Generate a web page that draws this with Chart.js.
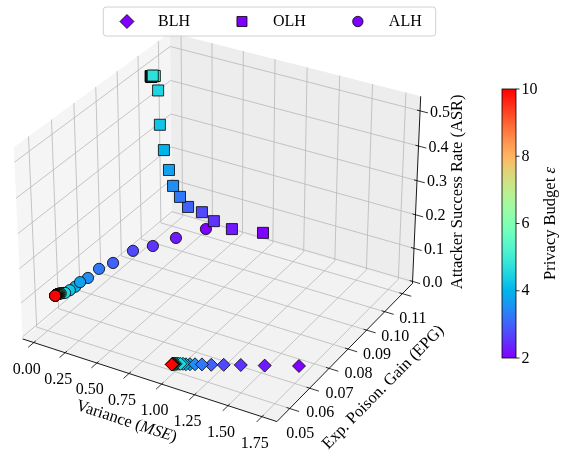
<!DOCTYPE html>
<html>
<head>
<meta charset="utf-8">
<script src="https://cdn.jsdelivr.net/npm/chart.js@4.4.1/dist/chart.umd.min.js"></script>
<style>
  html, body { margin: 0; padding: 0; background: #ffffff; }
  #wrap { width: 570px; height: 459px; }
</style>
</head>
<body>
<div id="wrap"><canvas id="chart" width="570" height="459"></canvas></div>
<script>
// ---- Privacy budgets (colour variable) ----
const EPSILON = [2, 2.25, 2.5, 2.75, 3, 3.25, 3.5, 3.75, 4, 4.25, 4.5, 4.75, 5, 5.25, 5.5, 5.75,
                 6, 6.25, 6.5, 6.75, 7, 7.25, 7.5, 7.75, 8, 8.25, 8.5, 8.75, 9, 9.25, 9.5, 9.75, 10];

// ---- BLH ----
const BLH_MSE = [1.724, 1.527, 1.390, 1.292, 1.221, 1.168, 1.128, 1.099, 1.076, 1.059, 1.045, 1.035,
                 1.027, 1.021, 1.017, 1.013, 1.010, 1.008, 1.006, 1.005, 1.004, 1.003, 1.002, 1.002,
                 1.001, 1.001, 1.001, 1.001, 1.000, 1.000, 1.000, 1.000, 1.000];
const BLH_EPG = [0.0638, 0.0598, 0.0570, 0.0550, 0.0535, 0.0524, 0.0516, 0.0510, 0.0505, 0.0502, 0.0499,
                 0.0497, 0.04955, 0.0494, 0.0493, 0.04922, 0.04915, 0.0491, 0.04905, 0.0490, 0.04896,
                 0.04892, 0.04888, 0.04884, 0.0488, 0.04877, 0.04874, 0.04871, 0.04868, 0.04865,
                 0.04862, 0.04859, 0.04856];
const BLH_ASR = [0.020, 0.020, 0.021, 0.021, 0.021, 0.022, 0.022, 0.022, 0.022, 0.023, 0.023, 0.023,
                 0.023, 0.023, 0.023, 0.023, 0.023, 0.023, 0.023, 0.023, 0.023, 0.023, 0.023, 0.023,
                 0.023, 0.023, 0.023, 0.023, 0.023, 0.023, 0.023, 0.023, 0.023];

// ---- OLH ----
const OLH_MSE = [0.724, 0.527, 0.390, 0.292, 0.221, 0.168, 0.128, 0.099, 0.076, 0.059, 0.045, 0.035,
                 0.027, 0.021, 0.017, 0.013, 0.010, 0.008, 0.006, 0.005, 0.004, 0.003, 0.002, 0.002,
                 0.001, 0.001, 0.001, 0.001, 0.000, 0.000, 0.000, 0.000, 0.000];
const OLH_EPG = [0.1121, 0.1084, 0.1077, 0.1077, 0.1050, 0.1042, 0.1032, 0.1030, 0.1020, 0.1012, 0.1014,
                 0.0995, 0.1010, 0.1009, 0.1009, 0.1008, 0.1008, 0.1008, 0.1007, 0.1007, 0.1007,
                 0.1007, 0.1007, 0.1007, 0.1007, 0.1007, 0.1007, 0.1007, 0.1007, 0.1007, 0.1007,
                 0.1007, 0.1007];
const OLH_ASR = [0.041, 0.050, 0.063, 0.080, 0.102, 0.131, 0.165, 0.211, 0.273, 0.350, 0.448, 0.4985,
                 0.490, 0.490, 0.489, 0.489, 0.489, 0.489, 0.488, 0.488, 0.488, 0.488, 0.488, 0.488,
                 0.488, 0.488, 0.488, 0.488, 0.488, 0.488, 0.488, 0.488, 0.488];

// ---- ALH ----
const ALH_MSE = [0.724, 0.527, 0.390, 0.292, 0.221, 0.168, 0.128, 0.099, 0.076, 0.059, 0.045, 0.035,
                 0.027, 0.021, 0.017, 0.013, 0.010, 0.008, 0.006, 0.005, 0.004, 0.003, 0.002, 0.002,
                 0.001, 0.001, 0.001, 0.001, 0.000, 0.000, 0.000, 0.000, 0.000];
const ALH_EPG = [0.0825, 0.0800, 0.0771, 0.0734, 0.0681, 0.0646, 0.0617, 0.0597, 0.0587, 0.0572, 0.0558,
                 0.0556, 0.0554, 0.0552, 0.0550, 0.0549, 0.0548, 0.0547, 0.0546, 0.0545, 0.0544,
                 0.0543, 0.0543, 0.0542, 0.0541, 0.0541, 0.0540, 0.0540, 0.0539, 0.0539, 0.0539,
                 0.0538, 0.0538];
const ALH_ASR = [0.204, 0.169, 0.145, 0.139, 0.123, 0.118, 0.102, 0.097, 0.086, 0.082, 0.080, 0.0795,
                 0.0793, 0.0790, 0.0790, 0.0788, 0.0786, 0.0784, 0.0782, 0.0780, 0.0780, 0.0778,
                 0.0776, 0.0775, 0.0774, 0.0773, 0.0772, 0.0771, 0.0770, 0.0770, 0.0770, 0.0770, 0.0770];

// ---- Axes ----
const X_TICKS = [0, 0.25, 0.5, 0.75, 1.0, 1.25, 1.5, 1.75];
const Y_TICKS = [0.05, 0.06, 0.07, 0.08, 0.09, 0.10, 0.11];
const Z_TICKS = [0.0, 0.1, 0.2, 0.3, 0.4, 0.5];
const EPS_TICKS = [2, 4, 6, 8, 10];
const X_LIM = [-0.09, 1.86];
const Y_LIM = [0.0437, 0.1158];
const Z_LIM = [-0.006, 0.541];
const EPS_LIM = [2, 10];

const X_TITLE = [{ t: 'Variance (' }, { t: 'MSE', it: true }, { t: ')' }];
const Y_TITLE = [{ t: 'Exp. Poison. Gain (EPG)' }];
const Z_TITLE = [{ t: 'Attacker Success Rate (ASR)' }];
const CB_TITLE = [{ t: 'Privacy Budget ' }, { t: 'ε', it: true }];

// ---- Styling ----
const FONT = '"Liberation Serif", "Times New Roman", serif';
const CANVAS_W = 570, CANVAS_H = 459;
const VIEW = { elev: 30, azim: -60, dist: 10, scale: 255, cx: 221, cy: 218 };
const BOX_ASPECT = [4, 4, 3];
const PANE = { left: 'rgb(245,245,245)', back: 'rgb(237,237,237)', floor: 'rgb(242,242,242)' };
const GRID_COLOR = '#b8b8b8';

// matplotlib-like 'rainbow' colour map
function rainbow(t) {
  t = Math.max(0, Math.min(1, t));
  const r = Math.min(1, Math.abs(2 * t - 0.5));
  const g = Math.sin(Math.PI * t);
  const b = Math.cos(Math.PI * t / 2);
  return `rgb(${Math.round(r * 255)},${Math.round(g * 255)},${Math.round(b * 255)})`;
}
const epsNorm = e => (e - EPS_LIM[0]) / (EPS_LIM[1] - EPS_LIM[0]);

// ---- Perspective camera for the 3-D box ----
const boxNorm = Math.hypot(...BOX_ASPECT);
const BOX = BOX_ASPECT.map(a => a * 1.8294640721620434 / boxNorm);
const EL = VIEW.elev * Math.PI / 180, AZ = VIEW.azim * Math.PI / 180;
const CAM_W = [Math.cos(EL) * Math.cos(AZ), Math.cos(EL) * Math.sin(AZ), Math.sin(EL)];
const CAM_U = [-Math.sin(AZ), Math.cos(AZ), 0];
const CAM_V = [-Math.sin(EL) * Math.cos(AZ), -Math.sin(EL) * Math.sin(AZ), Math.cos(EL)];

function project(x, y, z) {
  const q = [
    ((x - X_LIM[0]) / (X_LIM[1] - X_LIM[0]) - 0.5) * BOX[0],
    ((y - Y_LIM[0]) / (Y_LIM[1] - Y_LIM[0]) - 0.5) * BOX[1],
    ((z - Z_LIM[0]) / (Z_LIM[1] - Z_LIM[0]) - 0.5) * BOX[2]
  ];
  const dot = a => a[0] * q[0] + a[1] * q[1] + a[2] * q[2];
  const w = dot(CAM_W);
  const f = VIEW.dist / (VIEW.dist - w);
  return { x: dot(CAM_U) * f, y: dot(CAM_V) * f, depth: -w };
}

const SERIES = [
  { label: 'BLH', style: 'rectRot', radius: 6.5, legendRadius: 7, mse: BLH_MSE, epg: BLH_EPG, asr: BLH_ASR },
  { label: 'OLH', style: 'rect', radius: 7.8, legendRadius: 7.1, mse: OLH_MSE, epg: OLH_EPG, asr: OLH_ASR },
  { label: 'ALH', style: 'circle', radius: 5.6, legendRadius: 5.2, mse: ALH_MSE, epg: ALH_EPG, asr: ALH_ASR }
];

// points are drawn far-to-near so nearer markers cover farther ones
function buildPoints(s) {
  const pts = EPSILON.map((e, i) => {
    const p = project(s.mse[i], s.epg[i], s.asr[i]);
    return { x: p.x, y: p.y, depth: p.depth, eps: e };
  });
  pts.sort((a, b) => b.depth - a.depth);
  return pts;
}

const datasets = SERIES.map(s => {
  const pts = buildPoints(s);
  return {
    label: s.label,
    data: pts,
    showLine: false,
    pointStyle: s.style,
    pointRadius: s.radius,
    pointHoverRadius: s.radius,
    pointBackgroundColor: pts.map(p => rainbow(epsNorm(p.eps))),
    pointBorderColor: '#000000',
    pointBorderWidth: 0.8
  };
});

// ---- text helper (mixed upright / italic runs) ----
function drawRich(ctx, parts, x, y, angle, size) {
  ctx.save();
  ctx.translate(x, y);
  ctx.rotate(angle);
  ctx.textBaseline = 'middle';
  ctx.textAlign = 'left';
  ctx.fillStyle = '#000';
  const fonts = parts.map(p => `${p.it ? 'italic ' : ''}${size}px ${FONT}`);
  const widths = parts.map((p, i) => { ctx.font = fonts[i]; return ctx.measureText(p.t).width; });
  let cx = -widths.reduce((a, b) => a + b, 0) / 2;
  parts.forEach((p, i) => { ctx.font = fonts[i]; ctx.fillText(p.t, cx, 0); cx += widths[i]; });
  ctx.restore();
}

// ---- 3-D panes, grid, axes, ticks and labels ----
const axes3dPlugin = {
  id: 'axes3d',
  beforeDatasetsDraw(chart) {
    const ctx = chart.ctx, sx = chart.scales.x, sy = chart.scales.y;
    const P = (x, y, z) => { const p = project(x, y, z); return [sx.getPixelForValue(p.x), sy.getPixelForValue(p.y)]; };
    const [x0, x1] = X_LIM, [y0, y1] = Y_LIM, [z0, z1] = Z_LIM;
    const xr = x1 - x0, yr = y1 - y0;

    const poly = (pts, fill) => {
      ctx.beginPath();
      pts.forEach((p, i) => i ? ctx.lineTo(p[0], p[1]) : ctx.moveTo(p[0], p[1]));
      ctx.closePath();
      ctx.fillStyle = fill;
      ctx.fill();
    };
    const line = (a, b) => { ctx.beginPath(); ctx.moveTo(a[0], a[1]); ctx.lineTo(b[0], b[1]); ctx.stroke(); };

    ctx.save();
    poly([P(x0, y0, z0), P(x1, y0, z0), P(x1, y1, z0), P(x0, y1, z0)], PANE.floor);
    poly([P(x0, y0, z0), P(x0, y1, z0), P(x0, y1, z1), P(x0, y0, z1)], PANE.left);
    poly([P(x0, y1, z0), P(x1, y1, z0), P(x1, y1, z1), P(x0, y1, z1)], PANE.back);

    ctx.strokeStyle = GRID_COLOR;
    ctx.lineWidth = 0.8;
    X_TICKS.forEach(t => { line(P(t, y0, z0), P(t, y1, z0)); line(P(t, y1, z0), P(t, y1, z1)); });
    Y_TICKS.forEach(t => { line(P(x0, t, z0), P(x1, t, z0)); line(P(x0, t, z0), P(x0, t, z1)); });
    Z_TICKS.forEach(t => { line(P(x0, y0, t), P(x0, y1, t)); line(P(x0, y1, t), P(x1, y1, t)); });

    ctx.strokeStyle = '#000';
    ctx.lineWidth = 0.9;
    line(P(x0, y0, z0), P(x1, y0, z0));
    line(P(x1, y0, z0), P(x1, y1, z0));
    line(P(x1, y1, z0), P(x1, y1, z1));

    ctx.lineWidth = 0.8;
    X_TICKS.forEach(t => line(P(t, y0 + 0.012 * yr, z0), P(t, y0 - 0.035 * yr, z0)));
    Y_TICKS.forEach(t => line(P(x1 - 0.012 * xr, t, z0), P(x1 + 0.035 * xr, t, z0)));
    Z_TICKS.forEach(t => line(P(x1 - 0.012 * xr, y1, t), P(x1 + 0.03 * xr, y1, t)));

    const fmt2 = v => v.toFixed(2);
    X_TICKS.forEach(t => { const p = P(t, y0, z0); drawRich(ctx, [{ t: fmt2(t) }], p[0] - 7, p[1] + 27, 0, 16); });
    Y_TICKS.forEach(t => { const p = P(x1, t, z0); drawRich(ctx, [{ t: fmt2(t) }], p[0] + 10.5, p[1] + 25, 0, 16); });
    Z_TICKS.forEach(t => { const p = P(x1, y1, t); drawRich(ctx, [{ t: t.toFixed(1) }], p[0] + 20, p[1] + 1.5, 0, 16); });

    // axis titles, rotated along their axes
    const xa = P(x0, y0, z0), xb = P(x1, y0, z0);
    const xm = P((x0 + x1) / 2, y0, z0);
    drawRich(ctx, X_TITLE, xm[0] - 20, xm[1] + 42.5, Math.atan2(xb[1] - xa[1], xb[0] - xa[0]), 16.5);
    const ya = P(x1, y0, z0), yb = P(x1, y1, z0);
    const ym = P(x1, (y0 + y1) / 2, z0);
    drawRich(ctx, Y_TITLE, ym[0] + 35.7, ym[1] + 37.8, Math.atan2(yb[1] - ya[1], yb[0] - ya[0]), 16.5);
    const zm = P(x1, y1, (z0 + z1) / 2);
    drawRich(ctx, Z_TITLE, zm[0] + 41, zm[1], -Math.PI / 2, 16.5);
    ctx.restore();
  }
};

// ---- colour bar ----
const CBAR = { left: 502, right: 516, top: 89, bottom: 358 };
const colorbarPlugin = {
  id: 'colorbar',
  afterDraw(chart) {
    const ctx = chart.ctx;
    const { left, right, top, bottom } = CBAR;
    ctx.save();
    const grad = ctx.createLinearGradient(0, bottom, 0, top);
    for (let i = 0; i <= 64; i++) grad.addColorStop(i / 64, rainbow(i / 64));
    ctx.fillStyle = grad;
    ctx.fillRect(left, top, right - left, bottom - top);
    ctx.strokeStyle = '#000';
    ctx.lineWidth = 0.8;
    ctx.strokeRect(left, top, right - left, bottom - top);
    EPS_TICKS.forEach(e => {
      const y = bottom - epsNorm(e) * (bottom - top);
      ctx.beginPath(); ctx.moveTo(right, y); ctx.lineTo(right + 3.5, y); ctx.stroke();
      ctx.font = `16px ${FONT}`;
      ctx.fillStyle = '#000';
      ctx.textAlign = 'left';
      ctx.textBaseline = 'middle';
      ctx.fillText(String(e), right + 5.5, y + 0.5);
    });
    drawRich(ctx, CB_TITLE, 551, (top + bottom) / 2, -Math.PI / 2, 16.5);
    ctx.restore();
  }
};

// ---- legend ----
function drawMarker(ctx, style, r, x, y, fill) {
  ctx.beginPath();
  if (style === 'circle') ctx.arc(x, y, r, 0, Math.PI * 2);
  else if (style === 'rect') { const s = r * Math.SQRT1_2; ctx.rect(x - s, y - s, 2 * s, 2 * s); }
  else { ctx.moveTo(x - r, y); ctx.lineTo(x, y - r); ctx.lineTo(x + r, y); ctx.lineTo(x, y + r); ctx.closePath(); }
  ctx.fillStyle = fill;
  ctx.fill();
  ctx.strokeStyle = '#000';
  ctx.lineWidth = 0.8;
  ctx.stroke();
}
const legendPlugin = {
  id: 'boxLegend',
  afterDraw(chart) {
    const ctx = chart.ctx;
    const centerX = 269.5, top = 7, height = 29, cy = top + height / 2;
    const markerToText = 31, itemGap = 52, padL = 23.7, padR = 14;
    ctx.save();
    ctx.font = `16px ${FONT}`;
    const widths = SERIES.map(s => ctx.measureText(s.label).width);
    const total = padL + SERIES.reduce((a, s, i) => a + markerToText + widths[i], 0) + itemGap * (SERIES.length - 1) + padR;
    const left = centerX - total / 2;
    ctx.beginPath();
    ctx.roundRect(left, top, total, height, 3);
    ctx.fillStyle = 'rgba(255,255,255,0.8)';
    ctx.fill();
    ctx.strokeStyle = '#d0d0d0';
    ctx.lineWidth = 1;
    ctx.stroke();
    let x = left + padL;
    SERIES.forEach((s, i) => {
      drawMarker(ctx, s.style, s.legendRadius, x, cy, rainbow(0));
      ctx.font = `16px ${FONT}`;
      ctx.fillStyle = '#000';
      ctx.textAlign = 'left';
      ctx.textBaseline = 'middle';
      ctx.fillText(s.label, x + markerToText, cy + 0.5);
      x += markerToText + widths[i] + itemGap;
    });
    ctx.restore();
  }
};

new Chart(document.getElementById('chart').getContext('2d'), {
  type: 'scatter',
  data: { datasets },
  options: {
    responsive: false,
    animation: false,
    devicePixelRatio: 1,
    events: [],
    layout: { padding: 0, autoPadding: false },
    plugins: { legend: { display: false }, tooltip: { enabled: false } },
    scales: {
      x: { type: 'linear', display: false, min: -VIEW.cx / VIEW.scale, max: (CANVAS_W - VIEW.cx) / VIEW.scale },
      y: { type: 'linear', display: false, min: -(CANVAS_H - VIEW.cy) / VIEW.scale, max: VIEW.cy / VIEW.scale }
    }
  },
  plugins: [axes3dPlugin, colorbarPlugin, legendPlugin]
});
</script>
</body>
</html>
